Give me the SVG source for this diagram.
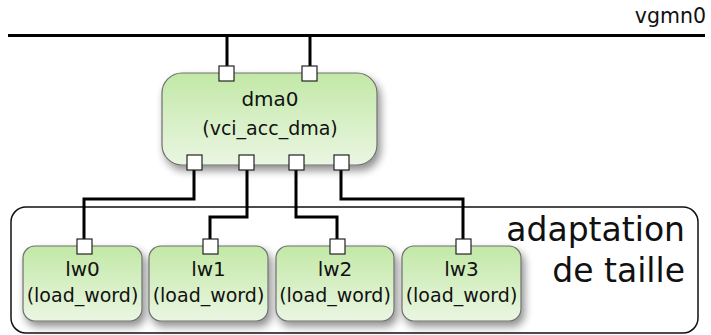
<svg xmlns="http://www.w3.org/2000/svg" width="711" height="335" viewBox="0 0 711 335">
  <defs>
    <linearGradient id="boxFill" x1="0" y1="0" x2="0" y2="1">
      <stop offset="0" stop-color="#c2e8a6"/>
      <stop offset="1" stop-color="#eaf6e2"/>
    </linearGradient>
    <filter id="shadow" x="-20%" y="-20%" width="150%" height="160%">
      <feGaussianBlur in="SourceAlpha" stdDeviation="4"/>
      <feOffset dx="3" dy="5" result="b"/>
      <feComponentTransfer><feFuncA type="linear" slope="0.45"/></feComponentTransfer>
      <feMerge><feMergeNode/><feMergeNode in="SourceGraphic"/></feMerge>
    </filter>
  </defs>
  <style>
    .box { fill: url(#boxFill); stroke: #6f6f6f; stroke-width: 1.2; filter: url(#shadow); }
    .port { fill: #ffffff; stroke: #222222; stroke-width: 1.2; }
    .wire { fill: none; stroke: #000000; stroke-width: 3; }
    .t { font-family: "DejaVu Sans", sans-serif; fill: #111111; }
    .title { font-size: 20px; text-anchor: middle; }
    .sub { font-size: 19px; text-anchor: middle; }
  </style>

  <!-- bus -->
  <g id="vgmn0">
    <line x1="8" y1="35.5" x2="705" y2="35.5" stroke="#000" stroke-width="3"/>
    <text class="t" x="706" y="23" font-size="20.5" text-anchor="end">vgmn0</text>
  </g>

  <!-- group frame -->
  <g id="adaptation">
    <rect x="11" y="207" width="687" height="126" rx="15" fill="none" stroke="#111" stroke-width="1.5"/>
    <text class="t" x="685" y="241" font-size="33" text-anchor="end">adaptation</text>
    <text class="t" x="685" y="282" font-size="33" text-anchor="end">de taille</text>
  </g>

  <!-- connectors -->
  <g id="connectors">
    <line class="wire" x1="227" y1="36" x2="227" y2="67"/>
    <line class="wire" x1="310" y1="36" x2="310" y2="67"/>
    <polyline class="wire" points="194,170 194,199 84,199 84,240"/>
    <polyline class="wire" points="247,170 247,217 210,217 210,240"/>
    <polyline class="wire" points="296,170 296,217 337,217 337,240"/>
    <polyline class="wire" points="341,170 341,199 463,199 463,240"/>
  </g>

  <g id="dma0">
    <rect class="box" x="162" y="73" width="215" height="92" rx="20"/>
    <text class="t title" x="270" y="106" font-size="20.5">dma0</text>
    <text class="t sub" x="270" y="135" font-size="18.5">(vci_acc_dma)</text>
    <rect class="port" x="219" y="66" width="15" height="15"/>
    <rect class="port" x="302" y="66" width="15" height="15"/>
    <rect class="port" x="187" y="155" width="15" height="15"/>
    <rect class="port" x="239" y="155" width="15" height="15"/>
    <rect class="port" x="289" y="155" width="15" height="15"/>
    <rect class="port" x="334" y="155" width="15" height="15"/>
  </g>

  <g id="lw0">
    <rect class="box" x="23" y="246" width="119" height="75" rx="12"/>
    <text class="t title" x="82.5" y="276">lw0</text>
    <text class="t sub" x="82.5" y="302">(load_word)</text>
    <rect class="port" x="77" y="239" width="15" height="15"/>
  </g>

  <g id="lw1">
    <rect class="box" x="149" y="246" width="119" height="75" rx="12"/>
    <text class="t title" x="208.5" y="276">lw1</text>
    <text class="t sub" x="208.5" y="302">(load_word)</text>
    <rect class="port" x="203" y="239" width="15" height="15"/>
  </g>

  <g id="lw2">
    <rect class="box" x="276" y="246" width="118" height="75" rx="12"/>
    <text class="t title" x="335" y="276">lw2</text>
    <text class="t sub" x="335" y="302">(load_word)</text>
    <rect class="port" x="330" y="239" width="15" height="15"/>
  </g>

  <g id="lw3">
    <rect class="box" x="402" y="246" width="119" height="75" rx="12"/>
    <text class="t title" x="461.5" y="276">lw3</text>
    <text class="t sub" x="461.5" y="302">(load_word)</text>
    <rect class="port" x="456" y="239" width="15" height="15"/>
  </g>
</svg>
